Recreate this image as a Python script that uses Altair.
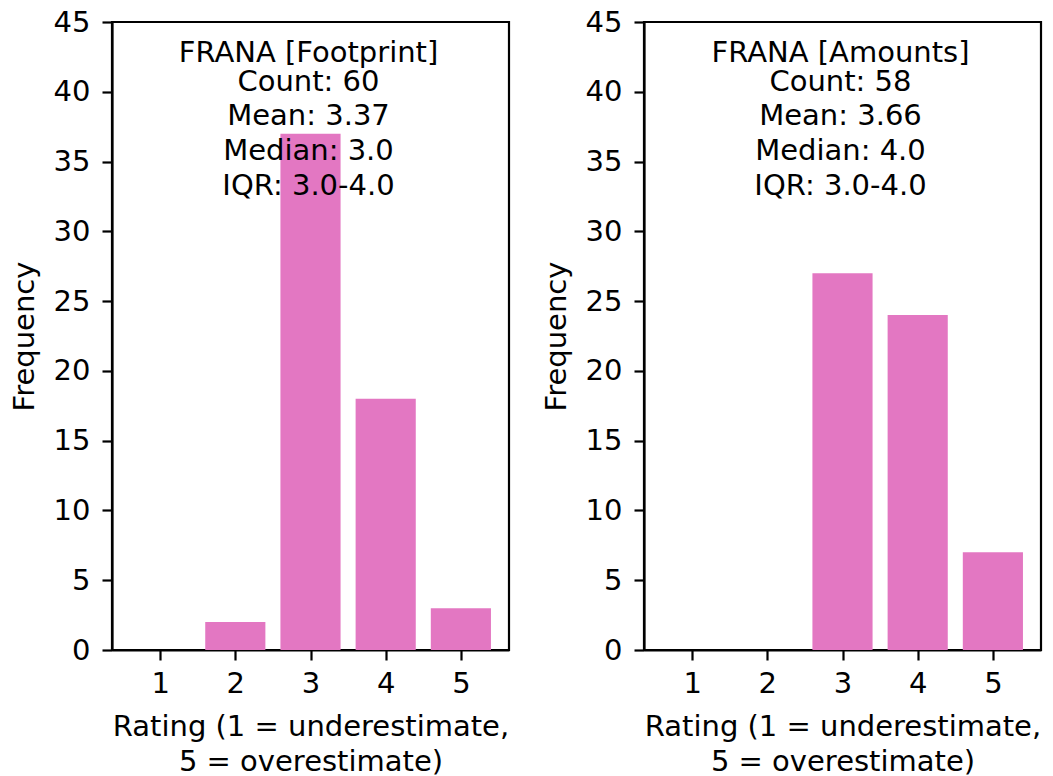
import altair as alt
import pandas as pd

ratings = [1, 2, 3, 4, 5]
footprint_counts = [0, 2, 37, 18, 3]
amounts_counts = [0, 0, 27, 24, 7]

footprint_title = "FRANA [Footprint]"
footprint_stats = "Count: 60\nMean: 3.37\nMedian: 3.0\nIQR: 3.0-4.0"
amounts_title = "FRANA [Amounts]"
amounts_stats = "Count: 58\nMean: 3.66\nMedian: 4.0\nIQR: 3.0-4.0"

PINK = "#e377c2"
FS = 29
W, H = 397, 628


def panel(counts, title, stats):
    df = pd.DataFrame({"rating": ratings, "count": counts})
    base = alt.Chart(df)
    bars = base.mark_bar(color=PINK, opacity=1).transform_calculate(
        lo="datum.rating - 0.4", hi="datum.rating + 0.4"
    ).encode(
        x=alt.X(
            "lo:Q",
            scale=alt.Scale(domain=[0.36, 5.64], nice=False, zero=False),
            axis=alt.Axis(
                values=ratings,
                title=["Rating (1 = underestimate,", "5 = overestimate)"],
                format="d",
                grid=False,
            ),
        ),
        x2="hi:Q",
        y=alt.Y(
            "count:Q",
            scale=alt.Scale(domain=[0, 45], nice=False),
            axis=alt.Axis(
                values=list(range(0, 46, 5)),
                title="Frequency",
                grid=False,
            ),
        ),
        y2=alt.datum(0),
    )
    text_style = dict(
        fontSize=FS,
        font="DejaVu Sans",
        align="center",
        baseline="alphabetic",
        color="black",
    )
    head = alt.Chart(pd.DataFrame({"t": [title]})).mark_text(**text_style).encode(
        text="t:N", x=alt.value(W / 2 - 2), y=alt.value(40)
    )
    body = alt.Chart(pd.DataFrame({"t": [stats]})).mark_text(
        lineBreak="\n", lineHeight=34.7, **text_style
    ).encode(text="t:N", x=alt.value(W / 2 - 2), y=alt.value(68.5))
    return alt.layer(bars, head, body).properties(width=W, height=H)


chart = alt.hconcat(
    panel(footprint_counts, footprint_title, footprint_stats),
    panel(amounts_counts, amounts_title, amounts_stats),
    spacing=135,
    bounds="flush",
).properties(
    padding={"left": 8, "top": 6, "right": 5, "bottom": 5},
    background="white",
).configure_view(
    stroke="black", strokeWidth=2.2
).configure_axis(
    labelFont="DejaVu Sans",
    titleFont="DejaVu Sans",
    labelFontSize=FS,
    titleFontSize=FS,
    titleFontWeight="normal",
    labelColor="black",
    titleColor="black",
    domainColor="black",
    domainWidth=2.2,
    tickColor="black",
    tickWidth=2.2,
    tickSize=10,
).configure_axisY(
    labelPadding=12,
    titlePadding=14,
).configure_axisX(
    labelPadding=9,
    titlePadding=14,
    titleLineHeight=35,
)

chart.save("out.html", embed_options={"renderer": "svg", "actions": False})
